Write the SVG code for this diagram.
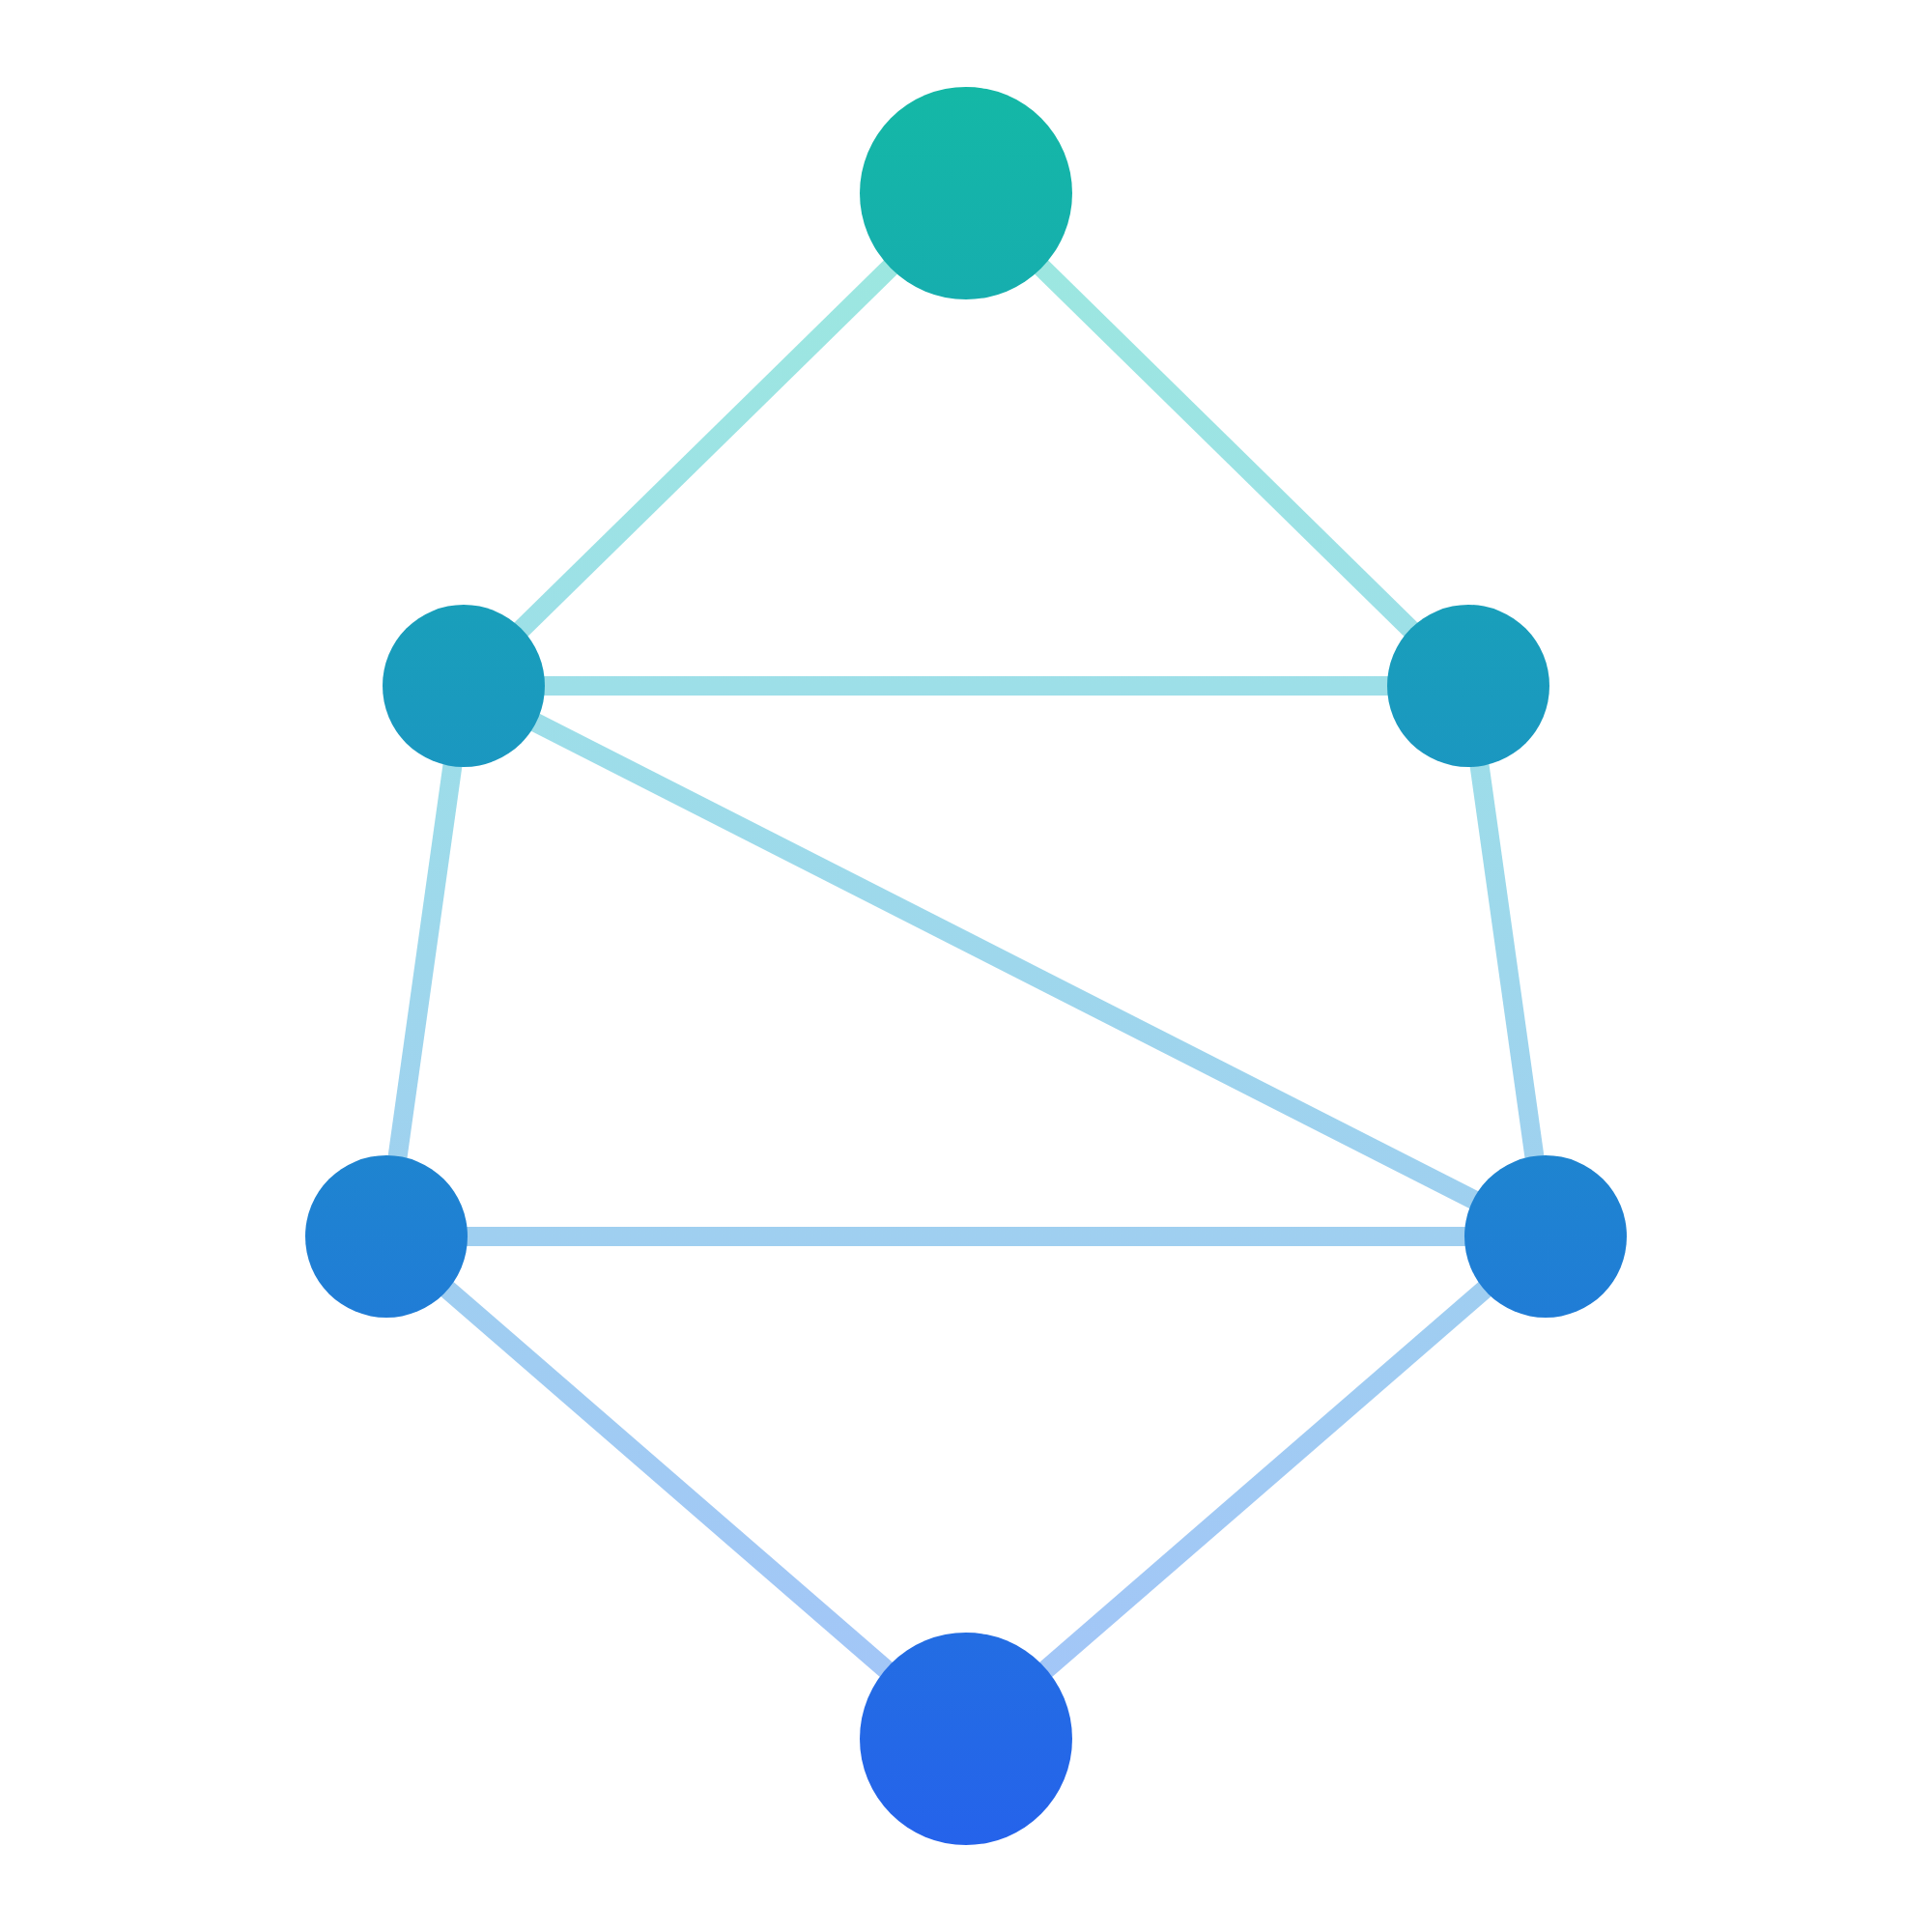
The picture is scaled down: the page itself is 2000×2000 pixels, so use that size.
<svg xmlns="http://www.w3.org/2000/svg" width="2000" height="2000" viewBox="0 0 2000 2000">
<defs>
<linearGradient id="g" gradientUnits="userSpaceOnUse" x1="0" y1="90" x2="0" y2="1910">
<stop offset="0" stop-color="#14b8a6"/>
<stop offset="1" stop-color="#2563eb"/>
</linearGradient>
<linearGradient id="ge" gradientUnits="userSpaceOnUse" x1="0" y1="200" x2="0" y2="1800">
<stop offset="0" stop-color="#9ce8df"/>
<stop offset="0.32" stop-color="#9ddfe8"/>
<stop offset="0.675" stop-color="#9fcff0"/>
<stop offset="1" stop-color="#a3c5f8"/>
</linearGradient>
</defs>
<style>
.edge{stroke:url(#ge);stroke-width:20;fill:none}
.node{fill:url(#g)}
</style>
<rect width="2000" height="2000" fill="#ffffff"/>
<g id="edges">
<line class="edge" x1="1000" y1="200" x2="480" y2="710"/>
<line class="edge" x1="1000" y1="200" x2="1520" y2="710"/>
<line class="edge" x1="480" y1="710" x2="1520" y2="710"/>
<line class="edge" x1="480" y1="710" x2="400" y2="1280"/>
<line class="edge" x1="1520" y1="710" x2="1600" y2="1280"/>
<line class="edge" x1="480" y1="710" x2="1600" y2="1280"/>
<line class="edge" x1="400" y1="1280" x2="1600" y2="1280"/>
<line class="edge" x1="400" y1="1280" x2="1000" y2="1800"/>
<line class="edge" x1="1600" y1="1280" x2="1000" y2="1800"/>
</g>
<g id="n-top"><circle class="node" cx="1000" cy="200" r="110"/></g>
<g id="n-midleft"><circle class="node" cx="480" cy="710" r="84"/></g>
<g id="n-midright"><circle class="node" cx="1520" cy="710" r="84"/></g>
<g id="n-lowleft"><circle class="node" cx="400" cy="1280" r="84"/></g>
<g id="n-lowright"><circle class="node" cx="1600" cy="1280" r="84"/></g>
<g id="n-bottom"><circle class="node" cx="1000" cy="1800" r="110"/></g>
</svg>
